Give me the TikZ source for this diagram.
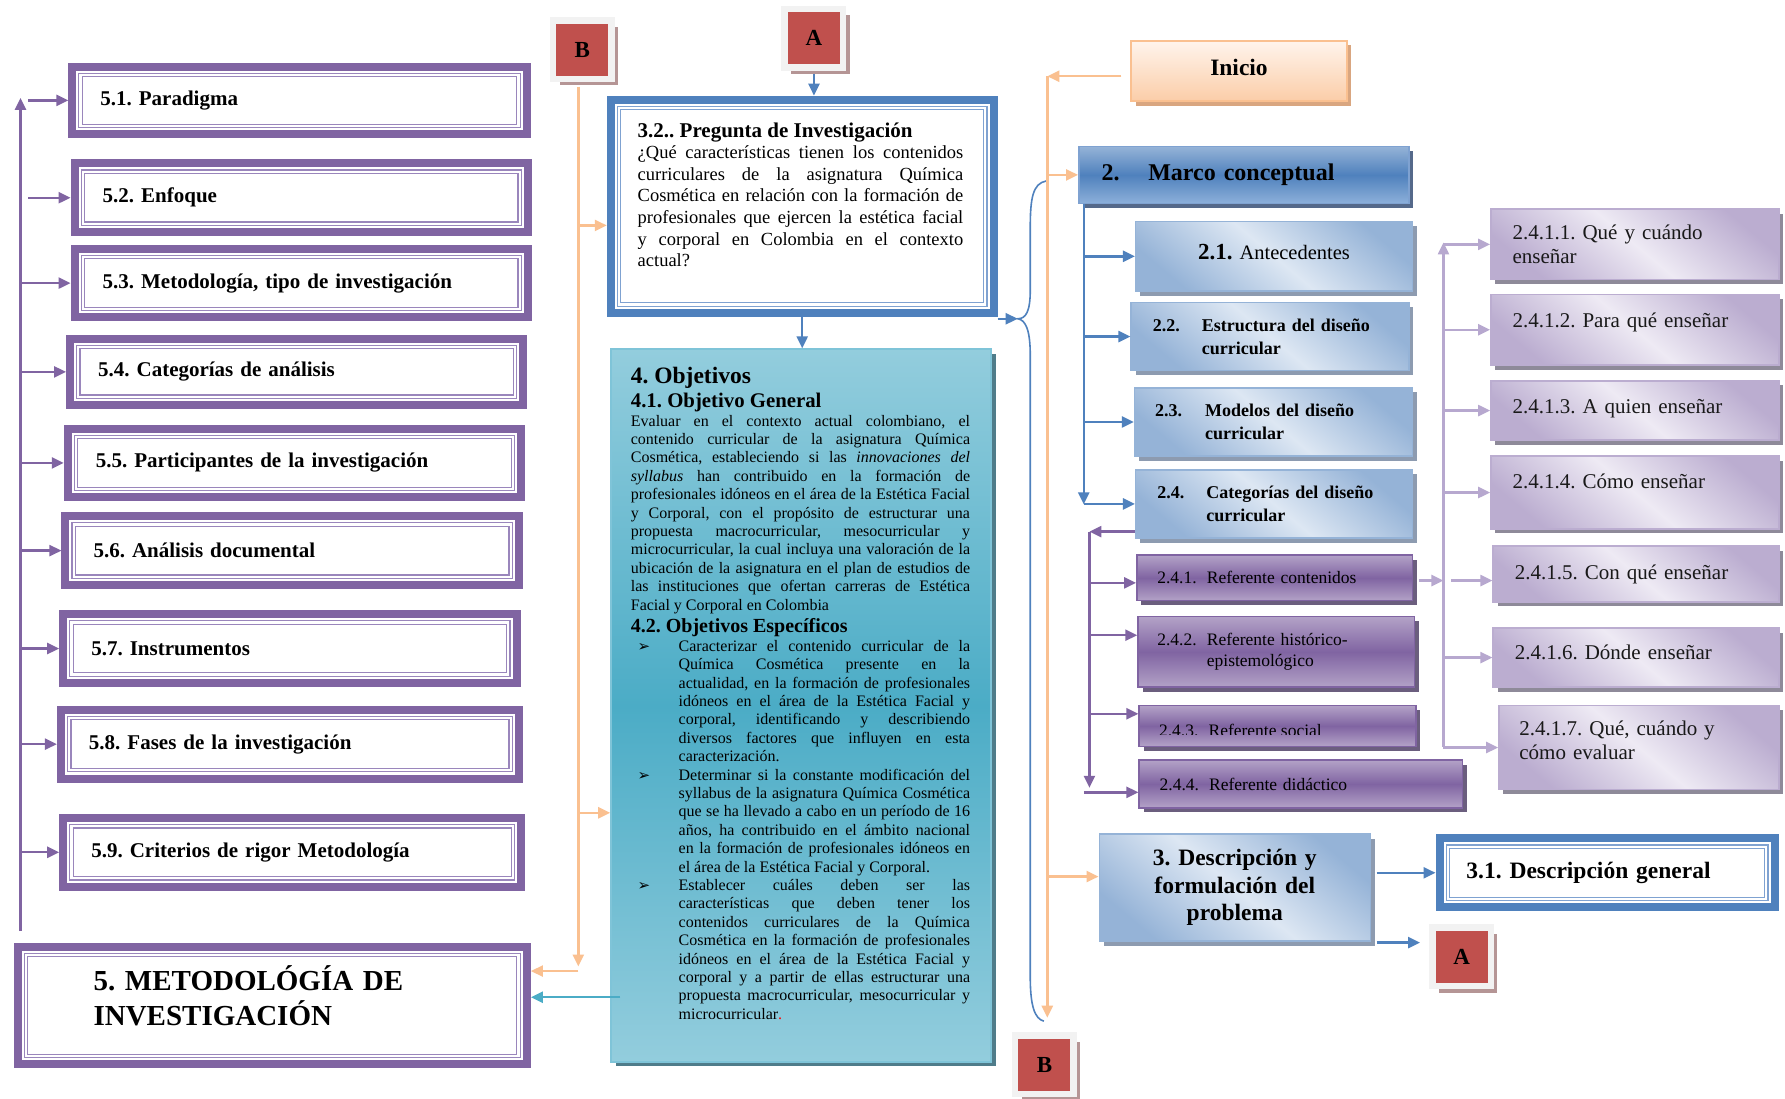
\documentclass[tikz,border=0pt]{standalone}
\usepackage{fontspec}
\setmainfont{Liberation Serif}
\newfontfamily\djv{DejaVu Sans}
\usetikzlibrary{arrows.meta,shadows,calc}
\tolerance=9999 \hbadness=10000 \hyphenpenalty=10000
\frenchspacing
\definecolor{cP}{HTML}{8064A2}
\definecolor{cPl}{HTML}{9A86BC}
\definecolor{cB}{HTML}{4F81BD}
\definecolor{cBl}{HTML}{7FA2D1}
\definecolor{cO}{HTML}{FAC090}
\definecolor{cR}{HTML}{C0504D}
\definecolor{cRg}{HTML}{F2F2F2}
\definecolor{cRs}{HTML}{B59595}
\definecolor{cC}{HTML}{4BACC6}
\definecolor{cCl}{HTML}{93CDDD}
\definecolor{cCb}{HTML}{7FC4D8}
\definecolor{cCs}{HTML}{4F7C8A}
\definecolor{cLB}{HTML}{DDE7F3}
\definecolor{cLBd}{HTML}{95B3D7}
\definecolor{cLBs}{HTML}{8D9BB0}
\definecolor{cPU}{HTML}{B3A2C7}
\definecolor{cPUs}{HTML}{6B5E7E}
\definecolor{cLV}{HTML}{EEEAF4}
\definecolor{cLVd}{HTML}{BBADD0}
\definecolor{cLVs}{HTML}{8E8A99}
\definecolor{cLVline}{HTML}{B7A8CF}
\definecolor{cIn}{HTML}{FFF4EC}
\definecolor{cInd}{HTML}{FBCDA8}
\definecolor{cIns}{HTML}{D9A680}
\definecolor{cMt}{HTML}{95B3D7}
\definecolor{cMb}{HTML}{8DB0DA}
\definecolor{cMs}{HTML}{55698A}
\newcommand\fsz[2]{\fontsize{#1}{#2}\selectfont}
% text box: name, options, x1,y1,x2,y2, left pad, text
\newcommand\tbx[8]{%
 \pgfmathsetlengthmacro\bxW{(#5-#3-2*#7)*1.1384pt}%
 \pgfmathsetlengthmacro\bxH{(#6-#4)*1.1384pt}%
 \pgfmathsetlengthmacro\bxP{#7*1.1384pt}%
 \node[#2, anchor=north west, inner xsep=\bxP, inner ysep=0pt, text width=\bxW, minimum height=\bxH] (#1) at (#3,#4) {#8};}
% plain box: name, options, x1,y1,x2,y2, text
\newcommand\rbx[7]{%
 \pgfmathsetlengthmacro\bxW{(#5-#3)*1.1384pt}%
 \pgfmathsetlengthmacro\bxH{(#6-#4)*1.1384pt}%
 \node[#2, anchor=north west, inner sep=0pt, minimum width=\bxW, minimum height=\bxH] (#1) at (#3,#4) {#7};}
% thick frame with double inner line
\newcommand\dframe[3]{%
 \draw[#2, line width=8pt] ([shift={(3.5,3.5)}]#1.north west) rectangle ([shift={(-3.5,-3.5)}]#1.south east);
 \draw[#3, line width=1.2pt] ([shift={(9.3,9.3)}]#1.north west) rectangle ([shift={(-9.3,-9.3)}]#1.south east);
 \draw[#3, line width=1.2pt] ([shift={(12.3,12.3)}]#1.north west) rectangle ([shift={(-12.3,-12.3)}]#1.south east);}
\newcommand\bul{\par\hangindent=47.8pt\hangafter=1\noindent\hspace*{6.8pt}\makebox[41pt][l]{\djv\fontsize{15}{16}\selectfont ➢}}
\tikzset{
 arw/.style={-{Triangle[length=12pt,width=11pt]}},
 pa/.style={draw=cP, line width=2.4pt, arw},
 ba/.style={draw=cB, line width=2.4pt, arw},
 oa/.style={draw=cO, line width=2.4pt, arw},
 la/.style={draw=cLVline, line width=2.4pt, arw},
 ca/.style={draw=cC, line width=2.4pt, arw},
 dbx/.style={fill=white, align=left, font=\fsz{21}{24}\bfseries},
 lbbox/.style={draw=cLBd, line width=1.5pt, top color=cLBd, bottom color=cLBd, middle color=cLB, shading angle=-40,
   drop shadow={shadow xshift=4.5pt, shadow yshift=-4.5pt, fill=cLBs, opacity=1}},
 pubox/.style={draw=cP, line width=1.5pt, top color=cPU, bottom color=cPU, middle color=cP,
   drop shadow={shadow xshift=4.5pt, shadow yshift=-4.5pt, fill=cPUs, opacity=1}, align=left, font=\fsz{17.5}{21.6}},
 lvbox/.style={draw=cLVd, line width=1.5pt, top color=cLVd, bottom color=cLVd, middle color=cLV, shading angle=-40,
   drop shadow={shadow xshift=4.5pt, shadow yshift=-4.5pt, fill=cLVs, opacity=1}, align=left, font=\fsz{21}{24}, text=black!90},
 mbox/.style={draw=cBl, line width=1.5pt, top color=cMt, bottom color=cMb, middle color=cB,
   drop shadow={shadow xshift=4.5pt, shadow yshift=-4.5pt, fill=cMs, opacity=1}, align=left, font=\fsz{24}{27}\bfseries},
 inibox/.style={draw=cO, line width=2pt, top color=cIn, bottom color=cInd,
   drop shadow={shadow xshift=4.5pt, shadow yshift=-4.5pt, fill=cIns, opacity=1}, align=center, font=\fsz{23.5}{26}\bfseries},
 objbox/.style={draw=cCb, line width=2pt, top color=cCl, bottom color=cCl, middle color=cC,
   drop shadow={shadow xshift=4.5pt, shadow yshift=-4.5pt, fill=cCs, opacity=1}},
 redbox/.style={fill=cR, draw=cRg, line width=6.5pt, minimum size=58.5pt, inner sep=0pt, font=\fsz{23}{26}\bfseries,
   drop shadow={shadow xshift=6.5pt, shadow yshift=-6.5pt, fill=cRs, opacity=1}}
}
\begin{document}
\begin{tikzpicture}[x=1.1384pt,y=-1.1384pt]
\fill[white] (0,0) rectangle (1568,965);
\useasboundingbox (0,0) rectangle (1568,965);

% ---------- left column ----------
\tbx{b51}{dbx}{60}{55}{466}{121}{28}{5.1. Paradigma}
\tbx{b52}{dbx}{62}{140}{467}{207}{28}{5.2. Enfoque}
\tbx{b53}{dbx}{62}{215}{467}{282}{28}{5.3. Metodología, tipo de investigación}
\tbx{b54}{dbx}{58}{294}{463}{359}{28}{5.4. Categorías de análisis}
\tbx{b55}{dbx}{56}{373}{461}{440}{28}{5.5. Participantes de la investigación}
\tbx{b56}{dbx}{54}{450}{459}{517}{28}{5.6. Análisis documental}
\tbx{b57}{dbx}{52}{536}{457}{603}{28}{5.7. Instrumentos}
\tbx{b58}{dbx}{50}{620}{459}{687}{28}{5.8. Fases de la investigación}
\tbx{b59}{dbx}{52}{715}{461}{782}{28}{5.9. Criterios de rigor Metodología}
\tbx{m5}{dbx, font=\fsz{29}{35}\bfseries}{12}{828}{466}{938}{70}{5. METODOLÓGÍA DE\\INVESTIGACIÓN\rule[-19pt]{0pt}{0pt}}
\foreach \n in {b51,b52,b53,b54,b55,b56,b57,b58,b59,m5} {\dframe{\n}{cP}{cPl}}

% ---------- question ----------
\rbx{q}{fill=white}{533}{84}{876}{278}{}
\dframe{q}{cB}{cBl}
\node[anchor=north west, inner sep=0pt, text width=325.6pt, align=justify, font=\fsz{18.5}{21.6}] (qt) at ([shift={(27,23.5)}]q.north west) {\parindent=0pt{\fsz{21}{24}\bfseries 3.2.. Pregunta de Investigación\par}¿Qué características tienen los contenidos\linebreak
curriculares de la asignatura Química\linebreak
Cosmética en relación con la formación de\linebreak
profesionales que ejercen la estética facial\linebreak
y corporal en Colombia en el contexto\linebreak
actual?\par};

% ---------- objectives ----------
\rbx{obj}{objbox}{536}{306}{870}{932}{}
\node[anchor=north west, inner sep=0pt, text width=339.2pt, align=justify, font=\fsz{16}{18.4}] (ot) at ([shift={(18,16.5)}]obj.north west) {\parindent=0pt{\fsz{23.5}{24}\bfseries 4. Objetivos\par}{\fsz{20.8}{24}\bfseries 4.1. Objetivo General\par}Evaluar en el contexto actual colombiano, el\linebreak
contenido curricular de la asignatura Química\linebreak
Cosmética, estableciendo si las \textit{innovaciones del}\linebreak
\textit{syllabus} han contribuido en la formación de\linebreak
profesionales idóneos en el área de la Estética Facial\linebreak
y Corporal, con el propósito de estructurar una\linebreak
propuesta macrocurricular, mesocurricular y\linebreak
microcurricular, la cual incluya una valoración de la\linebreak
ubicación de la asignatura en el plan de estudios de\linebreak
las instituciones que ofertan carreras de Estética\linebreak
Facial y Corporal en Colombia\par
{\fsz{20}{22.8}\bfseries 4.2. Objetivos Específicos\par}%
\bul Caracterizar el contenido curricular de la\linebreak
Química Cosmética presente en la\linebreak
actualidad, en la formación de profesionales\linebreak
idóneos en el área de la Estética Facial y\linebreak
corporal, identificando y describiendo\linebreak
diversos factores que influyen en esta\linebreak
caracterización.\par
\bul Determinar si la constante modificación del\linebreak
syllabus de la asignatura Química Cosmética\linebreak
que se ha llevado a cabo en un período de 16\linebreak
años, ha contribuido en el ámbito nacional\linebreak
en la formación de profesionales idóneos en\linebreak
el área de la Estética Facial y Corporal.\par
\bul Establecer cuáles deben ser las\linebreak
características que deben tener los\linebreak
contenidos curriculares de la Química\linebreak
Cosmética en la formación de profesionales\linebreak
idóneos en el área de la Estética Facial y\linebreak
corporal y a partir de ellas estructurar una\linebreak
propuesta macrocurricular, mesocurricular y\linebreak
microcurricular{\color{red}.}\par};

% ---------- red markers ----------
\node[redbox] (Btop) at (511.5,43.5) {B};
\node[redbox] (Atop) at (715,33.5) {A};
\node[redbox] (Abot) at (1284,840.5) {A};
\node[redbox] (Bbot) at (917.5,935.5) {B};

% ---------- right part ----------
\tbx{ini}{inibox}{993}{35}{1182}{88}{0}{\raisebox{7pt}{Inicio}}
\tbx{m2}{mbox}{947}{128}{1237}{178}{20}{\makebox[46.7pt][l]{2.}Marco conceptual}
\tbx{b21}{lbbox, align=center, font=\fsz{20.5}{24}}{997}{194}{1240}{255}{0}{\raisebox{9pt}{{\fsz{23}{26}\bfseries 2.1.} Antecedentes}}
\tbx{b22}{lbbox, align=left, font=\fsz{18}{22.8}\bfseries}{993}{265}{1237}{325}{19}{\makebox[49pt][l]{2.2.}Estructura del diseño\\\hspace*{49pt}curricular}
\tbx{b23}{lbbox, align=left, font=\fsz{18}{22.8}\bfseries}{996}{340}{1240}{400}{18}{\makebox[50pt][l]{2.3.}Modelos del diseño\\\hspace*{50pt}curricular}
\tbx{b24}{lbbox, align=left, font=\fsz{18}{22.8}\bfseries}{997}{412}{1240}{472}{19}{\makebox[49pt][l]{2.4.}Categorías del diseño\\\hspace*{49pt}curricular}

\tbx{b241}{pubox}{998}{487}{1240}{527}{18}{\makebox[49.5pt][l]{2.4.1.}Referente contenidos}
\tbx{b242}{pubox}{999}{541}{1242}{603}{17}{\makebox[49.5pt][l]{2.4.2.}Referente histórico-\\\hspace*{49.5pt}epistemológico}
\rbx{b243}{pubox}{1000}{619}{1243}{655}{}
\begin{scope}
\clip ([shift={(2,2)}]b243.north west) rectangle ([shift={(-2,-11)}]b243.south east);
\node[anchor=west, inner sep=0pt, font=\fsz{17.5}{21.6}] (t243) at ([shift={(18,4)}]b243.west) {\makebox[49.5pt][l]{2.4.3.}Referente social};
\end{scope}
\tbx{b244}{pubox}{1000}{667}{1284}{709}{18}{\makebox[49.5pt][l]{2.4.4.}Referente didáctico}

\tbx{l1}{lvbox}{1309}{183}{1562}{245}{19}{2.4.1.1. Qué y cuándo\\enseñar}
\tbx{l2}{lvbox}{1309}{258}{1562}{320}{19}{\raisebox{20pt}{2.4.1.2. Para qué enseñar}}
\tbx{l3}{lvbox}{1309}{334}{1562}{386}{19}{\raisebox{8pt}{2.4.1.3. A quien enseñar}}
\tbx{l4}{lvbox}{1309}{400}{1562}{464}{19}{\raisebox{22pt}{2.4.1.4. Cómo enseñar}}
\tbx{l5}{lvbox}{1311}{479}{1562}{528}{19}{2.4.1.5. Con qué enseñar}
\tbx{l6}{lvbox}{1311}{551}{1562}{603}{19}{\raisebox{10pt}{2.4.1.6. Dónde enseñar}}
\tbx{l7}{lvbox}{1316}{619}{1562}{693}{18}{2.4.1.7. Qué, cuándo y\\cómo evaluar\rule[-14pt]{0pt}{0pt}}

\tbx{b3}{lbbox, align=center, font=\fsz{23.5}{27.3}\bfseries}{965}{732}{1203}{826}{0}{3. Descripción y\\formulación del\\problema}
\tbx{b31}{dbx, font=\fsz{23.5}{27}\bfseries}{1261}{733}{1562}{800}{27}{3.1. Descripción general}
\dframe{b31}{cB}{cBl}

% ---------- connectors: left trunk ----------
\coordinate (LTb) at (18,818);
\coordinate (LTt) at (18,86);
\coordinate (LTs) at (25,0);
\draw[pa] (LTb) -- (LTt);
\draw[pa] (LTs |- b51.west) -- (b51.west);
\draw[pa] (LTs |- b52.west) -- (b52.west);
\foreach \n in {b53,b54,b55,b56,b57,b58,b59} {\draw[pa] (LTb |- \n.west) -- (\n.west);}

% ---------- orange from top B ----------
\coordinate (OB) at (508,849);
\coordinate (OH) at (508,853);
\coordinate (y198) at (0,198);
\coordinate (y714) at (0,714);
\draw[oa] ($(OB |- Btop.south)+(0,4)$) -- (OB);
\draw[oa] (OH) -- (OH -| m5.east);
\draw[oa] (OB |- y198) -- (q.west |- y198);
\draw[oa] (OB |- y714) -- (obj.west |- y714);

% ---------- cyan ----------
\coordinate (y876) at (0,876);
\draw[ca] ($(obj.west |- y876)+(9,0)$) -- (m5.east |- y876);

% ---------- blue around question ----------
\draw[ba] ($(Atop.south)+(0,3)$) -- (Atop.south |- q.north);
\draw[ba] (q.south) -- (q.south |- obj.north);
\coordinate (tip) at (894,280);
\draw[ba] (q.south east |- tip) -- (tip);
\draw[cB, line width=1.6pt] (919,159) .. controls (907,161) and (905,175) .. (905,200) -- (905,255)
  .. controls (905,274) and (901,280) .. (tip)
  .. controls (901,281) and (905,290) .. (905,312) -- (905,858)
  .. controls (905,884) and (909,895) .. (917,897);

% ---------- orange right ----------
\coordinate (OR) at (920,67);
\coordinate (ORb) at (920,894);
\coordinate (y770) at (0,770);
\draw[oa] ($(ini.west |- OR)+(-8,0)$) -- (OR);
\draw[oa] (OR) -- (ORb);
\draw[oa] (OR |- m2.west) -- (m2.west);
\draw[oa] (OR |- y770) -- (b3.west |- y770);

% ---------- blue trunk ----------
\coordinate (BT) at (952,443);
\draw[ba] (BT |- m2.south) -- (BT);
\foreach \n in {b21,b22,b23,b24} {\draw[ba] (BT |- \n.west) -- (\n.west);}

% ---------- purple trunk ----------
\coordinate (PT) at (957,467);
\coordinate (PB) at (957,692);
\coordinate (P4) at (952,696);
\coordinate (y512) at (0,512);
\coordinate (y558) at (0,558);
\coordinate (y627) at (0,627);
\draw[pa] (PT -| b24.west) -- (PT);
\draw[pa] (PT) -- (PB);
\draw[pa] (PT |- y512) -- (b241.west |- y512);
\draw[pa] (PT |- y558) -- (b242.west |- y558);
\draw[pa] (PT |- y627) -- (b243.west |- y627);
\draw[pa] (P4) -- (P4 -| b244.west);

% ---------- lavender trunk ----------
\coordinate (LVt) at (1268,213);
\coordinate (LVb) at (1268,656);
\coordinate (y510) at (0,510);
\draw[la] (LVb) -- (LVt);
\draw[la] ($(b241.east |- y510)+(5,0)$) -- (LVt |- y510);
\foreach \n in {l1,l2,l3,l4,l6,l7} {\draw[la] (LVt |- \n.west) -- (\n.west);}
\draw[la] ($(LVt |- y510)+(7,0)$) -- (l5.west |- y510);

% ---------- blue from 3 ----------
\coordinate (y828) at (0,828);
\draw[ba] ($(b3.east |- b31.west)+(5,0)$) -- (b31.west);
\draw[ba] ($(b3.east |- y828)+(5,0)$) -- ($(Abot.west |- y828)+(-8,0)$);
\end{tikzpicture}
\end{document}
